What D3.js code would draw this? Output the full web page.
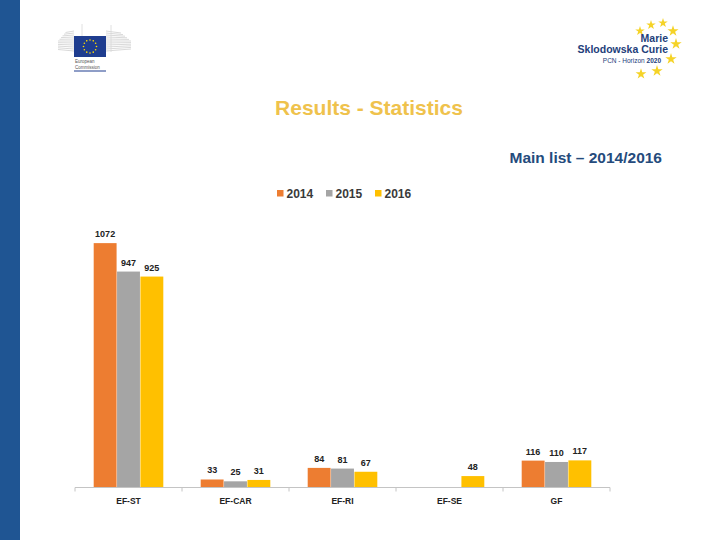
<!DOCTYPE html>
<html>
<head>
<meta charset="utf-8">
<title>Results - Statistics</title>
<script src="https://d3js.org/d3.v7.min.js"></script>
<style>
  body { margin: 0; background: #fff; }
  svg { display: block; font-family: "Liberation Sans", Arial, sans-serif; }
</style>
</head>
<body>
<script>
// data
var categories = ["EF-ST", "EF-CAR", "EF-RI", "EF-SE", "GF"];
var years = ["2014", "2015", "2016"];
var v2014 = [1072, 33, 84, null, 116];
var v2015 = [947, 25, 81, null, 110];
var v2016 = [925, 31, 67, 48, 117];
var colors = ["#ed7d31", "#a5a5a5", "#ffc000"];

var series = [v2014, v2015, v2016];

var svg = d3.select("body").append("svg")
    .attr("width", 720)
    .attr("height", 540);

// left blue strip
svg.append("rect").attr("x", 0).attr("y", 0).attr("width", 20).attr("height", 540)
    .attr("fill", "#1f5593");

// --- European Commission logo (simplified) ---
var ec = svg.append("g");
for (var i = 0; i < 11; i++) {
  var yy = 31 + i * 2;
  ec.append("line").attr("x1", 58 + Math.max(0, 5 - i) * 1.5).attr("x2", 74)
      .attr("y1", yy + (5 - i) * 0.3).attr("y2", yy)
      .attr("stroke", "#cfcfcf").attr("stroke-width", 0.8);
  ec.append("line").attr("x1", 106).attr("x2", 131 - Math.max(0, 5 - i) * 2)
      .attr("y1", yy).attr("y2", yy + (5 - i) * 0.4)
      .attr("stroke", "#cfcfcf").attr("stroke-width", 0.8);
}
ec.append("line").attr("x1", 82).attr("x2", 82).attr("y1", 24).attr("y2", 36)
    .attr("stroke", "#d8d8d8").attr("stroke-width", 0.8);
ec.append("line").attr("x1", 111).attr("x2", 111).attr("y1", 25).attr("y2", 52)
    .attr("stroke", "#d8d8d8").attr("stroke-width", 0.8);
ec.append("rect").attr("x", 74).attr("y", 36).attr("width", 32).attr("height", 21)
    .attr("fill", "#1f3d8f");
d3.range(12).forEach(function (k) {
  var a = k / 12 * 2 * Math.PI;
  ec.append("circle").attr("cx", 90 + 6.5 * Math.cos(a)).attr("cy", 46.5 + 6.5 * Math.sin(a))
      .attr("r", 0.8).attr("fill", "#ffdd00");
});
ec.append("text").attr("x", 75).attr("y", 63).attr("font-size", 4.5).attr("fill", "#555")
    .text("European");
ec.append("text").attr("x", 75).attr("y", 68.5).attr("font-size", 4.5).attr("fill", "#555")
    .text("Commission");
ec.append("line").attr("x1", 74).attr("x2", 106).attr("y1", 71).attr("y2", 71)
    .attr("stroke", "#1f3d8f").attr("stroke-width", 1);

// --- MSCA logo (simplified) ---
var ms = svg.append("g");
var star = d3.symbol().type(d3.symbolStar);
var starPos = [[640, 31, 28], [651, 25, 28], [663, 23, 28], [673, 31, 38], [676, 44, 40],
               [671, 59, 40], [657, 71, 40], [641, 74, 36]];
starPos.forEach(function (s) {
  ms.append("path").attr("d", star.size(s[2])())
      .attr("transform", "translate(" + s[0] + "," + s[1] + ")")
      .attr("fill", "#f5d327");
});
ms.append("text").attr("x", 668).attr("y", 42).attr("text-anchor", "end")
    .attr("font-size", 10.5).attr("font-weight", "bold").attr("fill", "#23407a").text("Marie");
ms.append("text").attr("x", 668).attr("y", 53).attr("text-anchor", "end")
    .attr("font-size", 10.5).attr("font-weight", "bold").attr("fill", "#23407a")
    .text("Sklodowska Curie");
var pcn = ms.append("text").attr("x", 661).attr("y", 63).attr("text-anchor", "end")
    .attr("font-size", 6.5).attr("fill", "#23407a");
pcn.append("tspan").text("PCN - Horizon ");
pcn.append("tspan").attr("font-weight", "bold").text("2020");

// titles
svg.append("text").attr("x", 369).attr("y", 115).attr("text-anchor", "middle")
    .attr("font-size", 21).attr("font-weight", "bold").attr("fill", "#efc24c")
    .text("Results - Statistics");
svg.append("text").attr("x", 662).attr("y", 163).attr("text-anchor", "end")
    .attr("font-size", 15.5).attr("font-weight", "bold").attr("fill", "#254b7c")
    .text("Main list \u2013 2014/2016");

// legend
var legend = svg.append("g").selectAll("g").data(years).join("g")
    .attr("transform", function (d, i) { return "translate(" + (277 + i * 49) + ",190)"; });
legend.append("rect").attr("width", 6.5).attr("height", 6.5)
    .attr("fill", function (d, i) { return colors[i]; });
legend.append("text").attr("x", 9.5).attr("y", 8).attr("font-size", 12)
    .attr("font-weight", "bold").attr("fill", "#3a3a3a").text(function (d) { return d; });

// scales
var x = d3.scaleBand().domain(categories).range([75, 610]).padding(0);
var xs = d3.scaleBand().domain(years).range([0, x.bandwidth()]).paddingInner(0.02).paddingOuter(0.8);
var y = d3.scaleLinear().domain([0, 1200]).range([487, 214]);

var rows = [];
categories.forEach(function (c, ci) {
  years.forEach(function (yr, yi) {
    if (series[yi][ci] != null) rows.push({ cat: c, year: yr, yi: yi, v: series[yi][ci] });
  });
});

svg.append("g").selectAll("rect").data(rows).join("rect")
    .attr("x", function (d) { return x(d.cat) + xs(d.year); })
    .attr("y", function (d) { return y(d.v); })
    .attr("width", xs.bandwidth())
    .attr("height", function (d) { return y(0) - y(d.v); })
    .attr("fill", function (d) { return colors[d.yi]; });

svg.append("g").selectAll("text").data(rows).join("text")
    .attr("x", function (d) { return x(d.cat) + xs(d.year) + xs.bandwidth() / 2; })
    .attr("y", function (d) { return y(d.v) - 6; })
    .attr("text-anchor", "middle").attr("font-size", 9).attr("font-weight", "bold")
    .attr("fill", "#222").text(function (d) { return d.v; });

// x axis with ticks between categories
var axis = svg.append("g").attr("transform", "translate(0,487.5)");
axis.append("line").attr("x1", 75).attr("x2", 610).attr("stroke", "#c4c4c4");
var edges = categories.map(function (c) { return x(c); }).concat([610]);
axis.selectAll(".tk").data(edges).join("line").attr("class", "tk")
    .attr("x1", function (d) { return d; }).attr("x2", function (d) { return d; })
    .attr("y1", 0).attr("y2", 4).attr("stroke", "#c4c4c4");
axis.selectAll(".lbl").data(categories).join("text").attr("class", "lbl")
    .attr("x", function (d) { return x(d) + x.bandwidth() / 2; })
    .attr("y", 16).attr("text-anchor", "middle").attr("font-size", 8.5)
    .attr("font-weight", "bold").attr("fill", "#222").text(function (d) { return d; });
</script>
</body>
</html>
